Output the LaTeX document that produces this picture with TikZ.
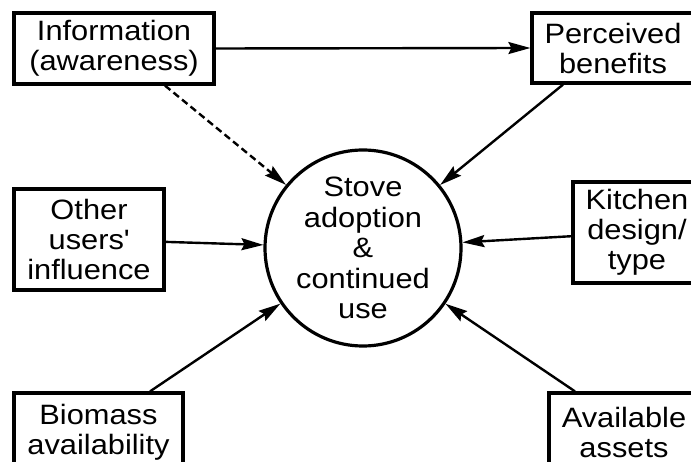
\documentclass[tikz,border=0pt]{standalone}
\usepackage{fontspec}
\setmainfont{Liberation Sans}[FakeStretch=1.1]
\usetikzlibrary{arrows.meta}
\tikzset{
%Define standard arrow tip
>={Stealth[length=22pt,width=12pt,inset=3pt]},
%Define styles for the boxes and the centre
factor/.style={draw, line width=3.2pt, align=center, inner sep=0pt,
  font=\fontsize{28}{30}\selectfont},
outcome/.style={draw, circle, line width=3.2pt, align=center, inner sep=0pt,
  minimum size=196pt, font=\fontsize{28}{30.5}\selectfont},
%Define styles for the connections
influence line/.style={->, line width=2.4pt},
weak line/.style={->, line width=2.4pt, dash pattern=on 7pt off 4pt},
}

\begin{document}
\begin{tikzpicture}[x=1pt,y=-1pt]
    % Frame of the picture
    \useasboundingbox (0,0) rectangle (691,462);

    % The centre
    \node[outcome] (stove) at (363,248)
      {Stove\\adoption\\\&\\continued\\use};

    % The factors round it
    \node[factor, minimum width=200pt, minimum height=71pt] (info) at (114,48.5)
      {Information\\(awareness)};
    \node[factor, minimum width=162pt, minimum height=70pt] (benefits) at (613,48)
      {Perceived\\benefits};
    \node[factor, minimum width=150pt, minimum height=101pt] (others) at (89,239.5)
      {Other\\users\textquotesingle\\influence};
    \node[factor, minimum width=128pt, minimum height=101pt] (kitchen) at (637,232.5)
      {Kitchen\\design/\\type};
    \node[factor, minimum width=169pt, minimum height=78pt] (biomass) at (98.5,432)
      {Biomass\\availability};
    \node[factor, minimum width=150pt, minimum height=78pt] (assets) at (624,432)
      {Available\\assets};

    % Draw the connections
    \draw[influence line] (info.east) -- (benefits.west);
    \draw[weak line] ([xshift=51pt]info.south) -- (stove);
    \draw[influence line] ([xshift=-50pt]benefits.south) -- (stove);
    \draw[influence line] (others) -- (stove);
    \draw[influence line] (kitchen) -- (stove);
    \draw[influence line] ([xshift=51.5pt]biomass.north) -- (stove);
    \draw[influence line] ([xshift=-49pt]assets.north) -- (stove);
\end{tikzpicture}
\end{document}
